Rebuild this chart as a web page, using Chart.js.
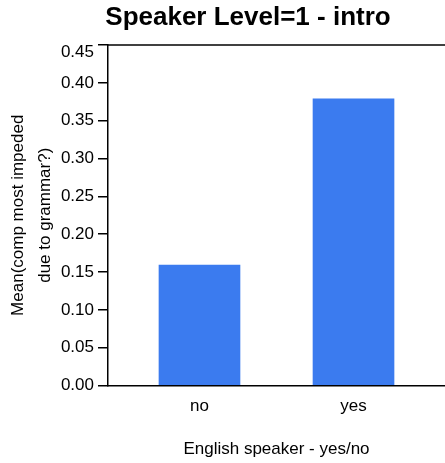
<!DOCTYPE html>
<html>
<head>
<meta charset="utf-8">
<script src="https://cdn.jsdelivr.net/npm/chart.js@4/dist/chart.umd.min.js"></script>
<style>
    body { margin: 0; background: #fff; }
    canvas { display: block; }
</style>
</head>
<body>
<canvas id="chart" width="445" height="463"></canvas>
<script>
var categories = ['no', 'yes'];
var meanValues = [0.159, 0.379];
var yTicks = [0, 0.05, 0.10, 0.15, 0.20, 0.25, 0.30, 0.35, 0.40, 0.45];

var chartTitle = 'Speaker Level=1 - intro';
var xTitle = 'English speaker - yes/no';
var yTitle = ['Mean(comp most impeded', 'due to grammar?)'];

var fontName = '"Liberation Sans", Arial, sans-serif';

// текст заголовков, рамка сверху и верхняя подпись оси
var extras = {
    id: 'extras',
    afterDraw: function(chart) {
        var ctx = chart.ctx;
        var area = chart.chartArea;
        var yScale = chart.scales.y;
        ctx.save();
        ctx.fillStyle = '#000';

        ctx.strokeStyle = '#000';
        ctx.lineWidth = 1.5;
        ctx.beginPath();
        ctx.moveTo(area.left, area.top);
        ctx.lineTo(area.right, area.top);
        ctx.stroke();

        ctx.font = 'bold 26px ' + fontName;
        ctx.textAlign = 'center';
        ctx.textBaseline = 'alphabetic';
        ctx.fillText(chartTitle, 248, 25);

        ctx.font = '17px ' + fontName;
        ctx.fillText(xTitle, (area.left + area.right) / 2, 454);

        // верхняя метка 0.45 прижата вниз, как в оригинале
        var top = yTicks[yTicks.length - 1];
        ctx.textAlign = 'right';
        ctx.fillText(top.toFixed(2), yScale.right - 14, yScale.getPixelForValue(top) + 12);

        ctx.translate(0, (area.top + area.bottom) / 2);
        ctx.rotate(-Math.PI / 2);
        ctx.textAlign = 'center';
        ctx.textBaseline = 'middle';
        ctx.fillText(yTitle[0], 0, 18);
        ctx.fillText(yTitle[1], 0, 45);
        ctx.restore();
    }
};

var ctx = document.getElementById('chart').getContext('2d');
var chart = new Chart(ctx, {
    type: 'bar',
    data: {
        datasets: [{
            data: categories.map(function(c, i) { return {x: i, y: meanValues[i]}; }),
            backgroundColor: '#3b7bef',
            borderWidth: 0,
            barThickness: 81
        }]
    },
    options: {
        responsive: false,
        animation: false,
        layout: { padding: { top: 45, left: 0, right: 0, bottom: 0 } },
        plugins: {
            legend: { display: false },
            tooltip: { enabled: false },
            title: { display: false }
        },
        scales: {
            x: {
                type: 'linear',
                offset: false,
                min: -0.594,
                max: 1.594,
                afterBuildTicks: function(scale) {
                    scale.ticks = categories.map(function(c, i) { return {value: i}; });
                },
                afterFit: function(scale) { scale.height = 77.5; },
                grid: { display: false, offset: false },
                border: { display: true, color: '#000', width: 1.5 },
                ticks: {
                    color: '#000',
                    font: { family: fontName, size: 17 },
                    padding: 3,
                    maxRotation: 0,
                    callback: function(v) { return categories[v]; }
                }
            },
            y: {
                min: 0,
                max: 0.45,
                afterBuildTicks: function(scale) {
                    scale.ticks = yTicks.map(function(v) { return {value: v}; });
                },
                afterFit: function(scale) { scale.width = 108; },
                grid: {
                    drawOnChartArea: false,
                    drawTicks: true,
                    tickLength: 10,
                    color: '#000',
                    lineWidth: 1.5
                },
                border: { display: true, color: '#000', width: 1.5 },
                ticks: {
                    color: '#000',
                    font: { family: fontName, size: 17 },
                    padding: 4,
                    callback: function(v) {
                        return v === yTicks[yTicks.length - 1] ? '' : v.toFixed(2);
                    }
                }
            }
        }
    },
    plugins: [extras]
});
</script>
</body>
</html>
